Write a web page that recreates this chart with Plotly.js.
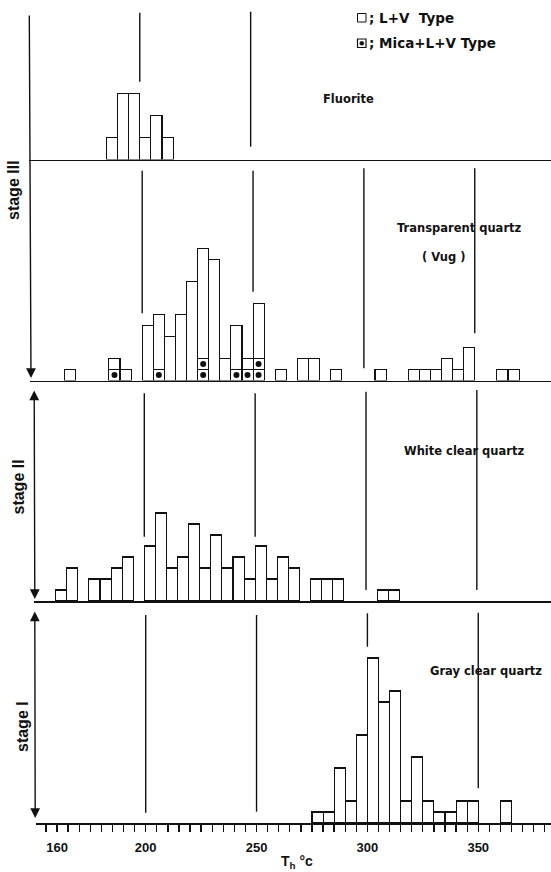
<!DOCTYPE html>
<html>
<head>
<meta charset="utf-8">
<script src="https://cdn.plot.ly/plotly-3.0.1.min.js"></script>
<style>html,body{margin:0;padding:0;background:#fff;}#chart{width:551px;height:872px;}</style>
</head>
<body>
<div id="chart"></div>
<script>
// ---------------- DATA ----------------
// Homogenization temperature bins (lower edge, °C), bin width 5 °C
const binWidth = 5;

// Stage III – Fluorite
const fluoriteBins   = [185, 190, 195, 200, 205, 210];
const fluoriteCounts = [2, 6, 6, 2, 4, 2];

// Stage III – Transparent quartz (Vug): total counts and Mica+L+V counts
const transBins  = [165, 185, 190, 200, 205, 210, 215, 220, 225, 230, 235, 240, 245, 250, 260, 270, 275, 285, 305, 320, 325, 330, 335, 340, 345, 360, 365];
const transTotal = [1, 2, 1, 5, 6, 4, 6, 9, 12, 11, 2, 5, 2, 7, 1, 2, 2, 1, 1, 1, 1, 1, 2, 1, 3, 1, 1];
const transMica  = [0, 1, 0, 0, 1, 0, 0, 0, 2, 0, 0, 1, 1, 2, 0, 0, 0, 0, 0, 0, 0, 0, 0, 0, 0, 0, 0];

// Stage II – White clear quartz
const whiteBins   = [160, 165, 175, 180, 185, 190, 200, 205, 210, 215, 220, 225, 230, 235, 240, 245, 250, 255, 260, 265, 275, 280, 285, 305, 310];
const whiteCounts = [1, 3, 2, 2, 3, 4, 5, 8, 3, 4, 7, 3, 6, 3, 4, 2, 5, 2, 4, 3, 2, 2, 2, 1, 1];

// Stage I – Gray clear quartz
const grayBins   = [275, 280, 285, 290, 295, 300, 305, 310, 315, 320, 325, 330, 335, 340, 345, 360];
const grayCounts = [1, 1, 5, 2, 8, 15, 11, 12, 2, 6, 2, 1, 1, 2, 2, 2];

// Axis tick labels
const tickLabels = [160, 200, 250, 300, 350];
const refTemps = [200, 250, 300, 350];

// Text
const panelNames = ["Fluorite", "Transparent quartz", "( Vug )", "White clear quartz", "Gray clear quartz"];
const stageNames = ["stage III", "stage II", "stage I"];
const legendNames = ["; L+V  Type", "; Mica+L+V Type"];

// ---------------- LAYOUT GEOMETRY ----------------
const W = 551, H = 872;
const px = x => x / W;
const py = y => 1 - y / H;
const S = 2.217;      // px per °C
const UNIT = 11;      // px per count
// top-to-bottom panels: pixel left edge of baseline, pixel x of 200°C, baseline y, top y
const panels = [
  {left: 29, x200: 139.8, base: 159.5, top: 8},
  {left: 30, x200: 142.2, base: 380.5, top: 165},
  {left: 34, x200: 144.3, base: 601,   top: 386},
  {left: 36, x200: 145.7, base: 823,   top: 606}
];
// vertical reference lines per panel: [temp, yTopPx, yBottomPx]
const refLines = [
  [[200, 12.7, 81.7], [250, 11.7, 146.7]],
  [[200, 170.7, 313.3], [250, 170.7, 291.7], [300, 168.3, 368.3], [350, 168.3, 333.3]],
  [[200, 393.3, 536.7], [250, 393.3, 536.7], [300, 391.7, 590], [350, 390, 590]],
  [[200, 615, 812.7], [250, 615, 811.7], [300, 613.3, 646.7], [350, 612.7, 788.3]]
];

const axName = k => (k === 0 ? '' : String(k + 1));
const layout = {
  width: W, height: H,
  margin: {l: 0, r: 0, t: 0, b: 0, pad: 0},
  paper_bgcolor: '#fff', plot_bgcolor: 'rgba(0,0,0,0)',
  showlegend: false, barmode: 'stack', bargap: 0,
  font: {family: 'DejaVu Sans, Arial, sans-serif', color: '#111'},
  shapes: [], annotations: []
};

// tick positions every 5 °C along the bottom axis
const allTicks = [];
for (let t = 155; t <= 380; t += 5) allTicks.push(t);

panels.forEach((p, k) => {
  const r0 = 200 - (p.x200 - p.left) / S;
  const r1 = 200 + (W - p.x200) / S;
  const isBottom = k === panels.length - 1;
  layout['xaxis' + axName(k)] = {
    domain: [px(p.left), 1], range: [r0, r1], anchor: 'y' + axName(k),
    showline: true, linecolor: '#111', linewidth: 1.8, showgrid: false, zeroline: false,
    ticks: isBottom ? 'outside' : '', ticklen: 7.5, tickwidth: 1.3, tickcolor: '#111',
    tickmode: 'array', tickvals: isBottom ? allTicks : [],
    ticktext: isBottom ? allTicks.map(t => tickLabels.includes(t) ? '<b>' + t + '</b>' : '') : [],
    showticklabels: isBottom, ticklabelstandoff: 4,
    tickfont: {family: 'Liberation Sans, Arial, sans-serif', size: 13, color: '#111'},
    fixedrange: true
  };
  layout['yaxis' + axName(k)] = {
    domain: [py(p.base), py(p.top)], range: [0, (p.base - p.top) / UNIT],
    visible: false, fixedrange: true, anchor: 'x' + axName(k)
  };
  refLines[k].forEach(([t, y0, y1]) => {
    layout.shapes.push({type: 'line', xref: 'x' + axName(k), yref: 'paper',
      x0: t, x1: t, y0: py(y0), y1: py(y1), line: {color: '#111', width: 1.4}});
  });
});

// ---------------- TRACES ----------------
const barStyle = {color: '#fff', line: {color: '#111', width: 1.1}};
const traces = [];
traces.push({type: 'bar', x: fluoriteBins, y: fluoriteCounts, width: binWidth, offset: 0,
  marker: barStyle, xaxis: 'x', yaxis: 'y', hoverinfo: 'skip'});

// Transparent quartz: mica boxes (one per count level), then L+V on top
const maxMica = Math.max(...transMica);
const dotX = [], dotY = [];
for (let lvl = 1; lvl <= maxMica; lvl++) {
  const xs = [], ys = [];
  transBins.forEach((b, i) => {
    if (transMica[i] >= lvl) { xs.push(b); ys.push(1); dotX.push(b + binWidth / 2); dotY.push(lvl - 0.5); }
  });
  traces.push({type: 'bar', x: xs, y: ys, width: binWidth, offset: 0, marker: barStyle,
    xaxis: 'x2', yaxis: 'y2', hoverinfo: 'skip'});
}
traces.push({type: 'bar', x: transBins, y: transTotal.map((v, i) => v - transMica[i]),
  width: binWidth, offset: 0, marker: barStyle, xaxis: 'x2', yaxis: 'y2', hoverinfo: 'skip'});
traces.push({type: 'scatter', mode: 'markers', x: dotX, y: dotY, xaxis: 'x2', yaxis: 'y2',
  marker: {color: '#111', size: 6}, hoverinfo: 'skip'});

traces.push({type: 'bar', x: whiteBins, y: whiteCounts, width: binWidth, offset: 0,
  marker: barStyle, xaxis: 'x3', yaxis: 'y3', hoverinfo: 'skip'});
traces.push({type: 'bar', x: grayBins, y: grayCounts, width: binWidth, offset: 0,
  marker: barStyle, xaxis: 'x4', yaxis: 'y4', hoverinfo: 'skip'});

// ---------------- DECORATIONS ----------------
const ann = (text, x, y, size, opts) => Object.assign({
  text: text, x: px(x), y: py(y), xref: 'paper', yref: 'paper', showarrow: false,
  xanchor: 'center', yanchor: 'middle',
  font: {family: 'DejaVu Sans, sans-serif', size: size, color: '#111'}
}, opts || {});
const helv = size => ({family: 'Liberation Sans, Arial, sans-serif', size: size, color: '#111'});

layout.annotations.push(ann('<b>' + panelNames[0] + '</b>', 348, 99.3, 11.5));
layout.annotations.push(ann('<b>' + panelNames[1] + '</b>', 459.5, 228.3, 11.5));
layout.annotations.push(ann('<b>' + panelNames[2] + '</b>', 443, 256.7, 11.5));
layout.annotations.push(ann('<b>' + panelNames[3] + '</b>', 464, 450.7, 11.5));
layout.annotations.push(ann('<b>' + panelNames[4] + '</b>', 485.5, 671, 11.5));

layout.annotations.push(ann('<b>' + stageNames[0] + '</b>', 14, 190, 16, {textangle: -90, font: helv(16)}));
layout.annotations.push(ann('<b>' + stageNames[1] + '</b>', 17.5, 487, 16, {textangle: -90, font: helv(16)}));
layout.annotations.push(ann('<b>' + stageNames[2] + '</b>', 22, 727, 16, {textangle: -90, font: helv(16)}));

// legend
layout.annotations.push(ann('<b>' + legendNames[0] + '</b>', 367, 17.7, 13.5, {xanchor: 'left'}));
layout.annotations.push(ann('<b>' + legendNames[1] + '</b>', 367, 43.3, 13.5, {xanchor: 'left'}));
layout.shapes.push({type: 'rect', xref: 'paper', yref: 'paper', x0: px(357.5), x1: px(366), y0: py(22), y1: py(13.5), line: {color: '#111', width: 1}});
layout.shapes.push({type: 'rect', xref: 'paper', yref: 'paper', x0: px(357.5), x1: px(366), y0: py(47.5), y1: py(39), line: {color: '#111', width: 1.2}});
layout.shapes.push({type: 'circle', xref: 'paper', yref: 'paper', x0: px(359.8), x1: px(363.8), y0: py(45.3), y1: py(41.3), fillcolor: '#111', line: {color: '#111', width: 0.5}});

// axis title
layout.annotations.push(ann('<b>T<sub>h</sub> °c</b>', 279, 862, 14, {xanchor: 'left', font: helv(14)}));

// stage arrows
const arrow = (xh, yh, xt, yt, side) => ({
  text: '', x: px(xh), y: py(yh), xref: 'paper', yref: 'paper', showarrow: true,
  ax: xt - xh, ay: yt - yh, arrowhead: 2, arrowsize: 1.4, arrowwidth: 1.4, arrowcolor: '#111',
  arrowside: side, standoff: 0, startstandoff: 0
});
layout.annotations.push(arrow(31, 378, 29.3, 14, 'end'));
layout.annotations.push(arrow(34.8, 599, 34.2, 389, 'end+start'));
layout.annotations.push(arrow(35.2, 818, 34.8, 610, 'end+start'));

Plotly.newPlot('chart', traces, layout, {staticPlot: true, displayModeBar: false});
</script>
</body>
</html>
